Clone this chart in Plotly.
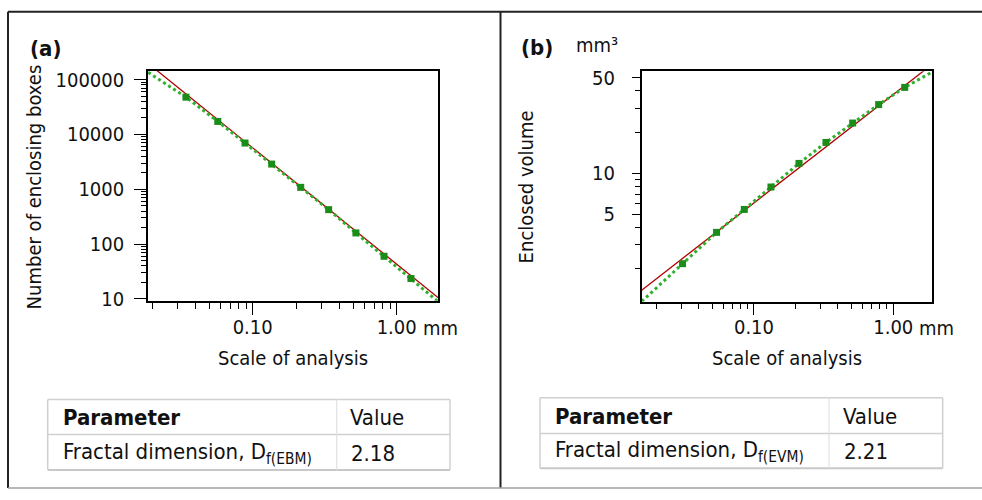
import plotly.graph_objects as go

# ---------------- data ----------------
# (a) enclosing box method
scale_a = [0.0344, 0.0572, 0.0885, 0.1355, 0.2155, 0.337, 0.521, 0.817, 1.256, 1.945]
boxes_a = [48000, 17300, 6980, 2885, 1085, 425, 160, 60, 23.6, 8.85]
curve_a_x = [0.0188] + scale_a
curve_a_y = [136000] + boxes_a
fit_a_x = [0.0188, 1.945]
fit_a_y = [198000, 10.5]

# (b) enclosed volume method
scale_b = [0.0307, 0.0539, 0.0852, 0.1324, 0.2104, 0.3288, 0.511, 0.785, 1.208]
vol_b = [2.17, 3.68, 5.42, 7.91, 11.78, 16.79, 23.28, 31.8, 42.5]
curve_b_x = [0.01563] + scale_b + [1.887]
curve_b_y = [1.146] + vol_b + [54.9]
fit_b_x = [0.01563, 1.887]
fit_b_y = [1.387, 62.4]

x_major_vals = [0.1, 1.0]
x_major_text = ["0.10", "1.00"]
x_minor_vals = [0.02, 0.03, 0.04, 0.05, 0.06, 0.07, 0.08, 0.09,
                0.2, 0.3, 0.4, 0.5, 0.6, 0.7, 0.8, 0.9]
ya_major_vals = [10, 100, 1000, 10000, 100000]
ya_major_text = ["10", "100", "1000", "10000", "100000"]
ya_minor_vals = [m * 10 ** k for k in range(1, 5) for m in range(2, 10)]
yb_major_vals = [5, 10, 50]
yb_major_text = ["5", "10", "50"]
yb_minor_vals = [2, 3, 4, 6, 7, 8, 9, 20, 30, 40]

table_a = [["Parameter", "Value"], ["Fractal dimension, D<sub>f(EBM)</sub>", "2.18"]]
table_b = [["Parameter", "Value"], ["Fractal dimension, D<sub>f(EVM)</sub>", "2.21"]]

# ---------------- style ----------------
W, H = 982, 500
FONT = "DejaVu Sans Condensed, DejaVu Sans, sans-serif"
TXT = "#111111"
RED = "#b00000"
GREEN_M = "#1a8c1a"
GREEN_D = "#2fb02f"


def px(x):
    return x / W


def py(y):
    return 1 - y / H


fig = go.Figure()


def add_panel(xs, ys, cx, cy, fx, fy, xa, ya):
    fig.add_trace(go.Scatter(x=fx, y=fy, mode="lines", line=dict(color=RED, width=1.3),
                             xaxis=xa, yaxis=ya, showlegend=False, hoverinfo="skip"))
    fig.add_trace(go.Scatter(x=cx, y=cy, mode="lines", line=dict(color=GREEN_D, width=3, dash="dot"),
                             xaxis=xa, yaxis=ya, showlegend=False, hoverinfo="skip"))
    fig.add_trace(go.Scatter(x=xs, y=ys, mode="markers",
                             marker=dict(symbol="square", size=7, color=GREEN_M),
                             xaxis=xa, yaxis=ya, showlegend=False, cliponaxis=False))


add_panel(scale_a, boxes_a, curve_a_x, curve_a_y, fit_a_x, fit_a_y, "x", "y")
add_panel(scale_b, vol_b, curve_b_x, curve_b_y, fit_b_x, fit_b_y, "x2", "y2")

axis_common = dict(type="log", showline=True, linecolor="black", linewidth=1.6, mirror=True,
                   showgrid=False, zeroline=False, ticks="outside", tickcolor="black",
                   tickwidth=1.3, tickmode="array",
                   tickfont=dict(family=FONT, size=20, color=TXT))

xa_dom = [px(148), px(438)]
xb_dom = [px(641.7), px(931.7)]
ya_dom = [py(305), py(68)]
yb_dom = [py(305.7), py(68.3)]

fig.update_layout(
    xaxis=dict(axis_common, domain=xa_dom, range=[-1.727, 0.287], anchor="y",
               tickvals=x_major_vals, ticktext=x_major_text, ticklen=12, ticklabelstandoff=-5,
               minor=dict(tickmode="array", tickvals=x_minor_vals, ticks="outside", ticklen=6,
                          tickwidth=1.3, tickcolor="black", showgrid=False)),
    yaxis=dict(axis_common, domain=ya_dom, range=[0.9646, 5.159], anchor="x",
               tickvals=ya_major_vals, ticktext=ya_major_text, ticklen=12, ticklabelstandoff=6,
               minor=dict(tickmode="array", tickvals=ya_minor_vals, ticks="outside", ticklen=5,
                          tickwidth=1.3, tickcolor="black", showgrid=False)),
    xaxis2=dict(axis_common, domain=xb_dom, range=[-1.806, 0.2757], anchor="y2",
                tickvals=x_major_vals, ticktext=x_major_text, ticklen=12, ticklabelstandoff=-5,
                minor=dict(tickmode="array", tickvals=x_minor_vals, ticks="outside", ticklen=6,
                           tickwidth=1.3, tickcolor="black", showgrid=False)),
    yaxis2=dict(axis_common, domain=yb_dom, range=[0.059, 1.7466], anchor="x2",
                tickvals=yb_major_vals, ticktext=yb_major_text, ticklen=8, ticklabelstandoff=13,
                minor=dict(tickmode="array", tickvals=yb_minor_vals, ticks="outside", ticklen=5,
                           tickwidth=1.3, tickcolor="black", showgrid=False)),
    yaxis3=dict(type="log", domain=yb_dom, range=[0.059, 1.7466], anchor="x2", overlaying="y2",
                side="left", showline=False, showgrid=False, zeroline=False, ticks="outside",
                tickmode="array", tickvals=[10], ticklen=12, tickwidth=1.3, tickcolor="black",
                showticklabels=False),
    width=W, height=H, autosize=False,
    margin=dict(l=0, r=0, t=0, b=0),
    paper_bgcolor="white", plot_bgcolor="white",
    font=dict(family=FONT, color=TXT),
)

ann = []


def label(text, x, y, size=20, xanchor="left", yanchor="middle", angle=0):
    ann.append(dict(text=text, x=px(x), y=py(y), xref="paper", yref="paper",
                    xanchor=xanchor, yanchor=yanchor, showarrow=False, textangle=angle,
                    font=dict(family=FONT, size=size, color=TXT)))


# panel labels
label("<b>(a)</b>", 28, 45, size=22)
label("<b>(b)</b>", 519, 44, size=22)
label("mm³", 574, 41, size=20)
# axis titles
label("Scale of analysis", 293, 364, xanchor="center")
label("Scale of analysis", 786.5, 364, xanchor="center")
label("Number of enclosing boxes", 33.5, 187.5, xanchor="center", angle=-90)
label("Enclosed volume", 525.5, 187.5, xanchor="center", angle=-90)
# units after 1.00
label("mm", 421, 333)
label("mm", 917, 333)

shapes = []


def line(x0, y0, x1, y1, color, width):
    shapes.append(dict(type="line", xref="paper", yref="paper", x0=px(x0), y0=py(y0),
                       x1=px(x1), y1=py(y1), line=dict(color=color, width=width)))


# outer frame
line(8, 7, 982, 7, "#222222", 2)
line(8, 7, 8, 498, "#222222", 2)
line(500.5, 7, 500.5, 498, "#222222", 2)
line(8, 498, 982, 498, "#a0a0a0", 1.5)


def table(rows, left, right, col, top, mid, bottom, tx, vx):
    line(left, top, right, top, "#d0d0d0", 1.5)
    line(left, bottom, right, bottom, "#c8c8c8", 2)
    line(left, top, left, bottom, "#d0d0d0", 1.5)
    line(right, top, right, bottom, "#d0d0d0", 1.5)
    line(left, mid, right, mid, "#d0d0d0", 1.5)
    line(col, top, col, bottom, "#e2e2e2", 1.2)
    label("<b>" + rows[0][0] + "</b>", tx, (top + mid) / 2 + 1, size=22)
    label(rows[0][1], vx, (top + mid) / 2 + 1, size=22)
    label(rows[1][0], tx, (mid + bottom) / 2 + 1, size=22)
    label(rows[1][1], vx + 1, (mid + bottom) / 2 + 1, size=22)


table(table_a, 47.7, 450, 336.7, 406.7, 442.7, 479.3, 61, 347.5)
table(table_b, 540, 942.7, 829, 405, 441.7, 477.7, 553, 841)

fig.update_layout(annotations=ann, shapes=shapes)
fig.write_html("out.html")
